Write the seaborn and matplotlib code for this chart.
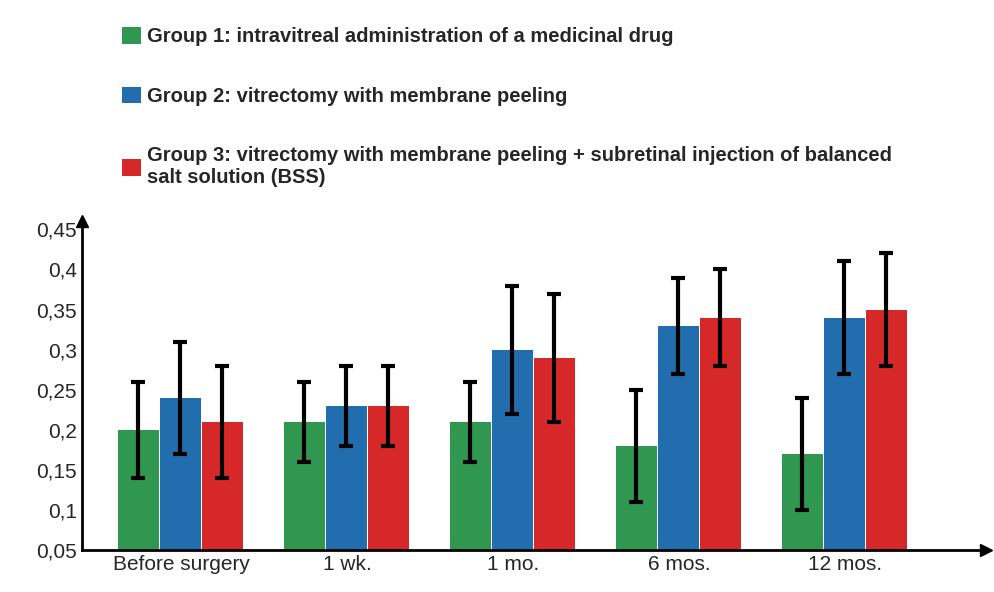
import matplotlib
matplotlib.use("Agg")
import matplotlib.pyplot as plt
import seaborn as sns
import pandas as pd
import numpy as np

categories = ["Before surgery", "1 wk.", "1 mo.", "6 mos.", "12 mos."]
groups = ["Group 1: intravitreal administration of a medicinal drug",
          "Group 2: vitrectomy with membrane peeling",
          "Group 3: vitrectomy with membrane peeling + subretinal injection of balanced\nsalt solution (BSS)"]
g1 = [0.20, 0.21, 0.21, 0.18, 0.17]
g2 = [0.24, 0.23, 0.30, 0.33, 0.34]
g3 = [0.21, 0.23, 0.29, 0.34, 0.35]
e1 = [0.06, 0.05, 0.05, 0.07, 0.07]
e2 = [0.07, 0.05, 0.08, 0.06, 0.07]
e3 = [0.07, 0.05, 0.08, 0.06, 0.07]
colors = ["#1fa84a", "#0b6fc4", "#f30b0b"]

rows = []
for gname, vals in zip(groups, [g1, g2, g3]):
    for c, v in zip(categories, vals):
        rows.append({"cat": c, "grp": gname, "val": v})
df = pd.DataFrame(rows)

sns.set_style("white")
plt.rcParams['font.family'] = ['Liberation Sans', 'DejaVu Sans']
fig = plt.figure(figsize=(9.94, 5.92), dpi=100)
ax = fig.add_axes([0.082, 0.071, 0.91, 0.555])
sns.barplot(data=df, x="cat", y="val", hue="grp", palette=colors, width=0.76,
            ax=ax, errorbar=None, legend=True, edgecolor=None, linewidth=0)
errs = [e1, e2, e3]
vals = [g1, g2, g3]
bar_conts = list(ax.containers)
for gi, cont in enumerate(bar_conts):
    for i, p in enumerate(cont.patches):
        p.set_width(0.245)
        x = p.get_x() + p.get_width() / 2
        ax.errorbar(x, vals[gi][i], yerr=errs[gi][i], color="black", capsize=5,
                    elinewidth=3, capthick=3, zorder=5)
ax.set_ylim(0.05, 0.46)
ticks = np.arange(0.05, 0.451, 0.05)
ax.set_yticks(ticks)
ax.set_yticklabels([f"{t:.2f}".rstrip("0").replace(".", ",") for t in ticks], fontsize=15)
ax.tick_params(axis="x", labelsize=15, length=0)
ax.tick_params(axis="y", length=0)
ax.set_xlabel(""); ax.set_ylabel("")
ax.set_xlim(-0.6, 4.85)
for s in ["top", "right"]:
    ax.spines[s].set_visible(False)
for s in ["left", "bottom"]:
    ax.spines[s].set_linewidth(2)
    ax.spines[s].set_color("black")
ax.plot(1, 0.05, ">k", transform=ax.get_yaxis_transform(), clip_on=False, markersize=8)
ax.plot(-0.6, 1, "^k", transform=ax.get_xaxis_transform(), clip_on=False, markersize=8)
handles, labels = ax.get_legend_handles_labels()
ax.get_legend().remove()
fig.legend(handles, labels, loc="upper left", bbox_to_anchor=(0.105, 0.985), frameon=False,
           labelspacing=2.0, handlelength=0.9, handleheight=0.9, handletextpad=0.3,
           prop={"size": 14.5, "weight": "bold"})
fig.savefig("out.png", dpi=100)
